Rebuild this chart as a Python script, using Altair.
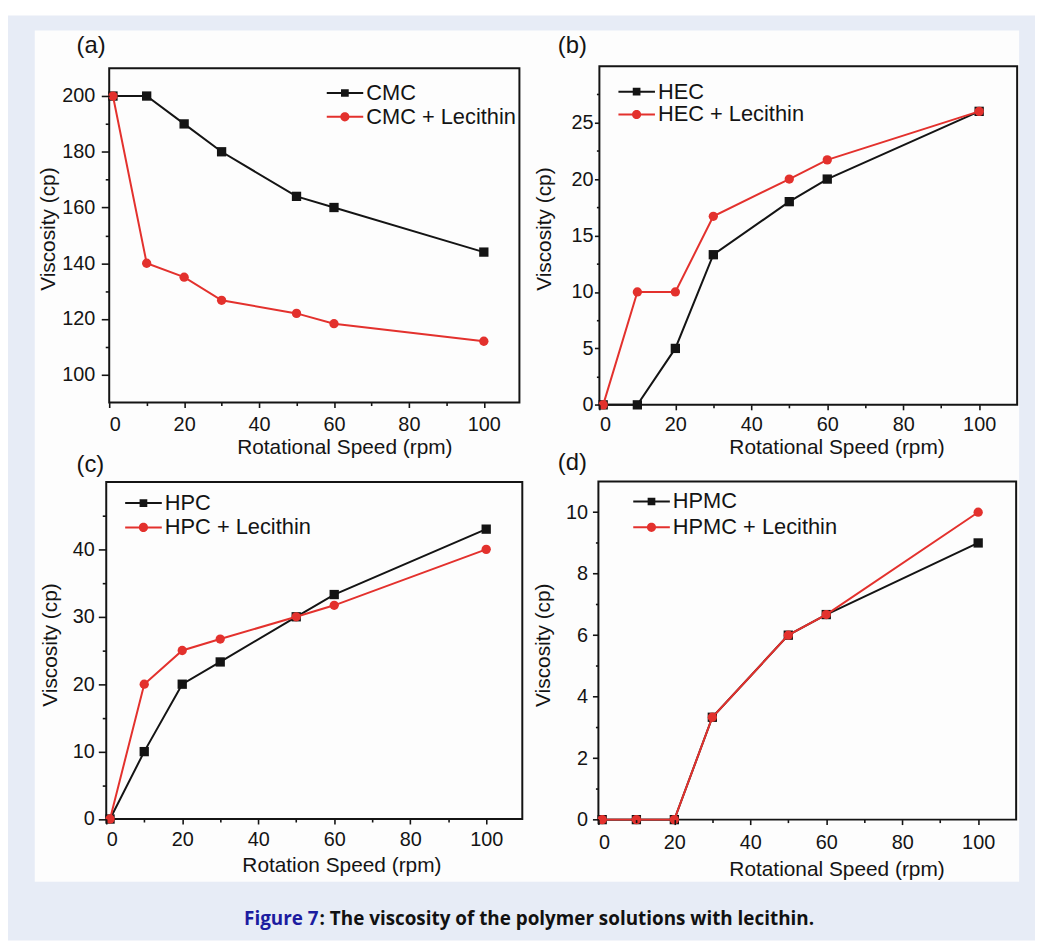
import altair as alt
import pandas as pd

# ---------------- data ----------------
speed = [1, 10, 20, 30, 50, 60, 100]

names_a = ["CMC", "CMC + Lecithin"]
cmc = [200, 200, 190, 180, 164, 160, 144]
cmc_lec = [200, 140, 135, 126.7, 122, 118.3, 112]

names_b = ["HEC", "HEC + Lecithin"]
hec = [0, 0, 5, 13.3, 18, 20, 26]
hec_lec = [0, 10, 10, 16.7, 20, 21.7, 26]

names_c = ["HPC", "HPC + Lecithin"]
hpc = [0, 10, 20, 23.3, 30, 33.3, 43]
hpc_lec = [0, 20, 25, 26.7, 30, 31.7, 40]

names_d = ["HPMC", "HPMC + Lecithin"]
hpmc = [0, 0, 0, 3.33, 6, 6.67, 9]
hpmc_lec = [0, 0, 0, 3.33, 6, 6.67, 10]

x_major = [0, 20, 40, 60, 80, 100]
x_minor = [10, 30, 50, 70, 90]
y_major_a = [100, 120, 140, 160, 180, 200]
y_minor_a = [110, 130, 150, 170, 190]
y_major_b = [0, 5, 10, 15, 20, 25]
y_minor_b = [2.5, 7.5, 12.5, 17.5, 22.5, 27.5]
y_major_c = [0, 10, 20, 30, 40]
y_minor_c = [5, 15, 25, 35, 45]
y_major_d = [0, 2, 4, 6, 8, 10]
y_minor_d = [1, 3, 5, 7, 9]

# ---------------- style ----------------
W, H = 1035, 936
BLACK = "#141414"
RED = "#e3312d"
FONT = "Liberation Sans"
# legend symbols: a short line with a marker in the middle (filled paths)
SQ_PATH = "M-1,-0.055H1V0.055H-1Z M-0.21,-0.21H0.21V0.21H-0.21Z"
CI_PATH = "M-1,-0.055H1V0.055H-1Z M0.25,0A0.25,0.25,0,1,1,-0.25,0A0.25,0.25,0,1,1,0.25,0Z"

panels = [
    dict(names=names_a, s1=cmc, s2=cmc_lec, xmax=109.5, ydom=[90, 210],
         xr=[102, 515.4], yr=[394, 57], ymaj=y_major_a, ymin=y_minor_a,
         xtitle="Rotational Speed (rpm)", xoff=394 - H, yoff=-102,
         xtx=339, xty=51, ytx=-55, yty=218.7,
         xpad=7, ytick=8, yminor=4, ypad=6.5,
         lx=321, ly=71.5, rp=1),
    dict(names=names_b, s1=hec, s2=hec_lec, xmax=110, ydom=[0, 30],
         xr=[596, 1017], yr=[396.3, 55], ymaj=y_major_b, ymin=y_minor_b,
         xtitle="Rotational Speed (rpm)", xoff=396.3 - H, yoff=-596,
         xtx=835, xty=49, ytx=-49, yty=218.7,
         xpad=5, ytick=5, yminor=3, ypad=1.5,
         lx=615, ly=70.2, rp=0),
    dict(names=names_c, s1=hpc, s2=hpc_lec, xmax=109.5, ydom=[0, 50],
         xr=[99, 518.3], yr=[813.7, 474], ymaj=y_major_c, ymin=y_minor_c,
         xtitle="Rotation Speed (rpm)", xoff=813.7 - H, yoff=-99,
         xtx=336, xty=53, ytx=-50, yty=637.8,
         xpad=6, ytick=8, yminor=4, ypad=4,
         lx=118, ly=484.8, rp=1.5),
    dict(names=names_d, s1=hpmc, s2=hpmc_lec, xmax=110, ydom=[0, 11],
         xr=[595, 1016], yr=[814.3, 473.5], ymaj=y_major_d, ymin=y_minor_d,
         xtitle="Rotational Speed (rpm)", xoff=814.3 - H, yoff=-595,
         xtx=835, xty=56, ytx=-49, yty=638,
         xpad=8, ytick=6, yminor=3, ypad=5,
         lx=630, ly=483.2, rp=3),
]


def make_panel(p):
    n = len(speed)
    df = pd.DataFrame({
        "speed": speed + speed,
        "visc": p["s1"] + p["s2"],
        "series": [p["names"][0]] * n + [p["names"][1]] * n,
    })
    xs = alt.Scale(domain=[0, p["xmax"]], range=p["xr"], nice=False, zero=False)
    ys = alt.Scale(domain=p["ydom"], range=p["yr"], nice=False, zero=False)
    cs = alt.Scale(domain=p["names"], range=[BLACK, RED])
    ss = alt.Scale(domain=p["names"], range=[SQ_PATH, CI_PATH])

    xaxis = alt.Axis(
        orient="bottom", offset=p["xoff"], values=x_major, zindex=1,
        tickSize=5, tickWidth=1.6, tickColor=BLACK, domain=False, grid=False,
        labelFont=FONT, labelFontSize=20, labelColor=BLACK, labelPadding=p["xpad"],
        labelOverlap=False,
        title=p["xtitle"], titleFont=FONT, titleFontSize=21, titleFontWeight="normal",
        titleColor=BLACK, titleX=p["xtx"], titleY=p["xty"], titleBaseline="alphabetic",
        titleAlign="center",
    )
    xaxis_minor = alt.Axis(
        orient="bottom", offset=p["xoff"], values=x_minor, labels=False, title=None,
        zindex=1, tickSize=3, tickWidth=1.6, tickColor=BLACK, domain=False, grid=False,
    )
    yaxis = alt.Axis(
        orient="left", offset=p["yoff"], values=p["ymaj"], zindex=1,
        tickSize=p["ytick"], tickWidth=1.6, tickColor=BLACK, domain=False, grid=False,
        labelFont=FONT, labelFontSize=20, labelColor=BLACK, labelPadding=p["ypad"],
        labelOverlap=False,
        title="Viscosity (cp)", titleFont=FONT, titleFontSize=21, titleFontWeight="normal",
        titleColor=BLACK, titleAngle=270, titleX=p["ytx"], titleY=p["yty"],
        titleBaseline="alphabetic", titleAlign="center",
    )
    yaxis_minor = alt.Axis(
        orient="left", offset=p["yoff"], values=p["ymin"], labels=False, title=None,
        zindex=1, tickSize=p["yminor"], tickWidth=1.6, tickColor=BLACK, domain=False,
        grid=False,
    )

    frame_df = pd.DataFrame({"x0": [0], "x1": [p["xmax"]],
                             "y0": [p["ydom"][0]], "y1": [p["ydom"][1]]})
    frame = alt.Chart(frame_df).mark_rect(fillOpacity=0, stroke=BLACK, strokeWidth=2).encode(
        x=alt.X("x0:Q", scale=xs, axis=xaxis), x2="x1:Q",
        y=alt.Y("y0:Q", scale=ys, axis=yaxis), y2="y1:Q",
    )

    legend = alt.Legend(
        title=None, orient="none", legendX=p["lx"], legendY=p["ly"],
        labelFont=FONT, labelFontSize=22, labelColor=BLACK, labelOffset=3, labelLimit=400,
        symbolSize=1369, symbolStrokeWidth=0, symbolOpacity=1, clipHeight=21,
        rowPadding=p["rp"], padding=0, offset=0,
    )

    base = alt.Chart(df)
    X = alt.X("speed:Q", scale=xs, axis=None)
    Y = alt.Y("visc:Q", scale=ys, axis=None)

    # guide-only layer (no rows survive the filter): minor ticks + legend
    guide = base.transform_filter("datum.speed < 0").mark_point(
        filled=True, opacity=1).encode(
        x=alt.X("speed:Q", scale=xs, axis=xaxis_minor),
        y=alt.Y("visc:Q", scale=ys, axis=yaxis_minor),
        color=alt.Color("series:N", scale=cs, legend=legend),
        shape=alt.Shape("series:N", scale=ss, legend=legend),
    )

    layers = [frame, guide]
    shapes = ["square", "circle"]
    for i, name in enumerate(p["names"]):
        sub = base.transform_filter(alt.datum.series == name)
        ln = sub.mark_line(strokeWidth=2, clip=False).encode(
            x=X, y=Y, color=alt.Color("series:N", scale=cs, legend=None))
        pt = sub.mark_point(shape=shapes[i], filled=True, size=88, opacity=1, clip=False).encode(
            x=X, y=Y, color=alt.Color("series:N", scale=cs, legend=None))
        layers += [ln, pt]
    return alt.layer(*layers).resolve_axis(x="independent", y="independent")


one = pd.DataFrame({"k": [0]})
bg_blue = alt.Chart(one).mark_rect(color="#e7ecf6").encode(
    x=alt.value(0), x2=alt.value(W), y=alt.value(4), y2=alt.value(H))
bg_white = alt.Chart(one).mark_rect(color="#fdfdfd").encode(
    x=alt.value(27), x2=alt.value(1019), y=alt.value(19), y2=alt.value(877))

panel_labels = []
for txt, px, py in [("(a)", 69, 42), ("(b)", 554, 42), ("(c)", 69, 464), ("(d)", 554, 462)]:
    panel_labels.append(
        alt.Chart(one).mark_text(text=txt, font=FONT, fontSize=24, color=BLACK,
                                 align="left", baseline="alphabetic").encode(
            x=alt.value(px), y=alt.value(py)))

cap1 = alt.Chart(one).mark_text(text="Figure 7", font="Open Sans", fontSize=19, fontWeight="bold",
                                color="#1c1ca0", align="right", baseline="alphabetic").encode(
    x=alt.value(313), y=alt.value(920))
cap2 = alt.Chart(one).mark_text(text=": The viscosity of the polymer solutions with lecithin.",
                                font="Open Sans", fontSize=19, fontWeight="bold", color="#111111",
                                align="left", baseline="alphabetic").encode(
    x=alt.value(314), y=alt.value(920))

chart = alt.layer(
    bg_blue, bg_white,
    *[make_panel(p) for p in panels],
    *panel_labels, cap1, cap2,
).resolve_scale(
    x="independent", y="independent", color="independent", shape="independent"
).properties(
    width=W, height=H, padding=0, autosize="none", background="#ffffff"
).configure_view(stroke=None)

chart.save("out.html", embed_options={"renderer": "svg", "actions": False})
